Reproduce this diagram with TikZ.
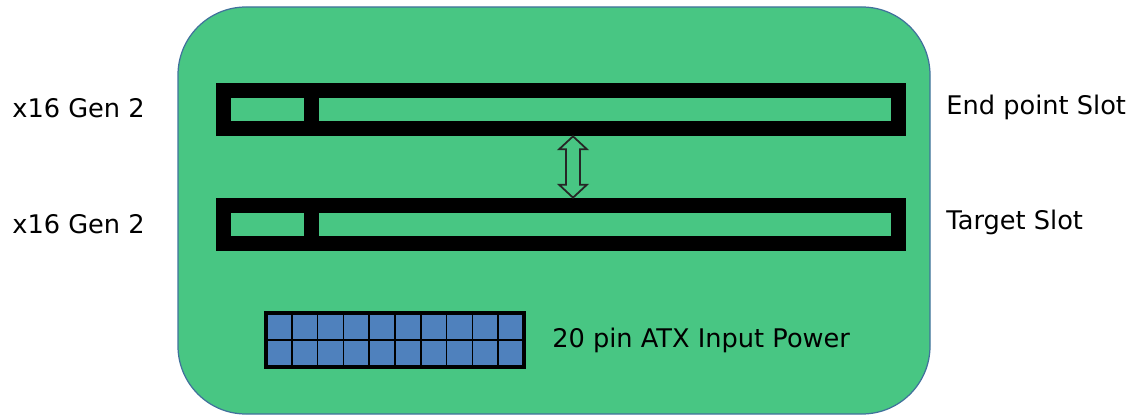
\documentclass[tikz,border=0pt]{standalone}
\usepackage{fontspec}
\setmainfont{DejaVu Sans}
\usetikzlibrary{positioning,calc}
\definecolor{boardgreen}{HTML}{48C683}
\definecolor{pinblue}{HTML}{4F81BD}
\definecolor{edgeblue}{HTML}{41719C}
\begin{document}
\begin{tikzpicture}[x=0.02cm,y=-0.02cm,font=\fontsize{14.6}{17}\selectfont,
  slot/.style={fill=black,inner sep=0pt,minimum width=13.8cm,minimum height=1.06cm},
  gap/.style={fill=boardgreen,inner sep=0pt,minimum height=0.47cm},
  lbl/.style={anchor=west,inner sep=0pt},
  pin/.style={fill=pinblue,draw=black,line width=1pt}]
\useasboundingbox (0,0) rectangle (1135,415);
\draw[fill=boardgreen,draw=edgeblue,line width=0.7pt,rounded corners=1.36cm] (178,7) rectangle (930,414);
\node[slot] (slotA) at (561,109.5) {};
\node[slot] (slotB) at (561,224.5) {};
\node[gap,minimum width=1.46cm] (keyA) at (267.5,109.5) {};
\node[gap,minimum width=11.44cm] (laneA) at (605,109.5) {};
\node[gap,minimum width=1.46cm] (keyB) at (267.5,224.5) {};
\node[gap,minimum width=11.44cm] (laneB) at (605,224.5) {};
\coordinate (tipA) at (slotA.south -| 573,0);
\coordinate (tipB) at (slotB.north -| 573,0);
\draw[fill=boardgreen,draw=black!85,line width=1pt] (tipA) -- ($(tipA)+(14,13)$) -- ($(tipA)+(7,13)$) -- ($(tipB)+(7,-13)$) -- ($(tipB)+(14,-13)$) -- (tipB) -- ($(tipB)+(-14,-13)$) -- ($(tipB)+(-7,-13)$) -- ($(tipA)+(-7,13)$) -- ($(tipA)+(-14,13)$) -- cycle;
\foreach \c in {0,...,9}
  \foreach \r in {0,1}
    \draw[pin] ({266+25.8*\c},{313+27*\r}) rectangle ++(25.8,27);
\node[draw=black,line width=1.8pt,inner sep=0pt,minimum width=5.16cm,minimum height=1.08cm] (atx) at (395,340) {};
\node[lbl] (genA) at (12,108) {x16 Gen 2};
\node[lbl] (genB) at (12,224) {x16 Gen 2};
\node[lbl] (endpt) at (946,107) {End point Slot};
\node[lbl] (target) at (946,222) {Target Slot};
\node[lbl,right=15pt of atx] (power) {20 pin ATX Input Power};
\end{tikzpicture}
\end{document}
